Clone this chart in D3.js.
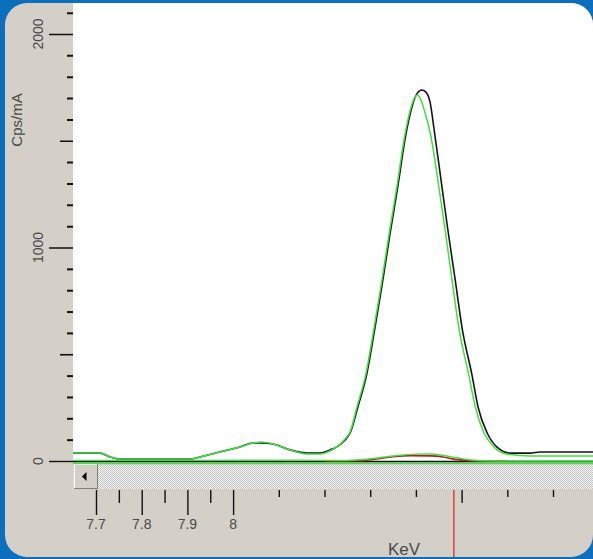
<!DOCTYPE html>
<html>
<head>
<meta charset="utf-8">
<script src="https://cdn.jsdelivr.net/npm/d3@7"></script>
<style>
    body { margin: 0; background: #0b6fbd; }
    .canvas { width: 593px; height: 559px; }
    text { font-family: "Liberation Sans", Arial, sans-serif; fill: #4a4a4a; }
</style>
</head>
<body>
<div class="canvas"></div>

<script>

    // measured spectrum (black)
    const measuredKeV = [7.650, 7.709, 7.731, 7.753, 7.906, 7.928, 7.971, 8.015, 8.044, 8.063, 8.087, 8.125, 8.162, 8.190,
        8.212, 8.227, 8.245, 8.256, 8.273, 8.293, 8.306, 8.326, 8.343, 8.361, 8.376, 8.387, 8.396, 8.405, 8.413, 8.422,
        8.431, 8.440, 8.455, 8.470, 8.486, 8.501, 8.523, 8.536, 8.556, 8.577, 8.606, 8.650, 8.672, 8.788];
    const measuredCps = [37, 37, 19, 9, 9, 19, 42, 66, 84, 84, 80, 52, 37, 37,
        52, 66, 98, 131, 253, 412, 567, 824, 1059, 1293, 1504, 1621, 1691, 1728, 1738, 1728,
        1681, 1550, 1316, 1082, 848, 624, 400, 253, 131, 66, 37, 37, 42, 42];

    // fitted spectrum (green)
    const fitKeV = [7.650, 7.709, 7.731, 7.753, 7.906, 7.928, 7.971, 8.015, 8.044, 8.063, 8.087, 8.125, 8.162, 8.190,
        8.212, 8.227, 8.245, 8.256, 8.271, 8.291, 8.304, 8.324, 8.341, 8.359, 8.374, 8.385, 8.394, 8.403, 8.411, 8.420,
        8.431, 8.448, 8.464, 8.479, 8.494, 8.516, 8.530, 8.549, 8.571, 8.597, 8.650, 8.788];
    const fitCps = [37, 37, 19, 9, 9, 19, 42, 66, 84, 89, 80, 52, 33, 33,
        47, 66, 103, 136, 253, 412, 567, 824, 1059, 1293, 1504, 1621, 1686, 1714, 1691, 1630,
        1541, 1316, 1082, 848, 624, 400, 253, 131, 66, 33, 23, 23];

    // small overlapping line (green) and its companion (red)
    const lineKeV = [7.650, 7.900, 8.150, 8.245, 8.280, 8.320, 8.360, 8.400, 8.430, 8.460, 8.490, 8.520, 8.550, 8.600, 8.788];
    const lineCps = [3, 3, 4, 2, 6, 15, 26, 32, 33, 26, 15, 5, 1, 0, 0];
    const redKeV = [8.200, 8.270, 8.310, 8.350, 8.390, 8.430, 8.460, 8.480, 8.510, 8.540, 8.600];
    const redCps = [0, 1, 8, 20, 25, 24, 19, 10, 3, 0, 0];

    // axes
    const yMajor = [0, 1000, 2000];
    const yMid = [500, 1500];
    const yMinor = [100, 200, 300, 400, 600, 700, 800, 900, 1100, 1200, 1300, 1400, 1600, 1700, 1800, 1900, 2100];
    const xMajor = [7.7, 7.8, 7.9, 8];
    const xMajorLabels = ["7.7", "7.8", "7.9", "8"];
    const xMid = [7.75, 7.85, 7.95, 8.5];
    const xMinor = [8.1, 8.2, 8.3, 8.4, 8.6, 8.7];
    const MARKER_KEV = 8.483;

    (function () {
        const canvas = d3.select(".canvas");

        const WIDTH = 593;
        const HEIGHT = 559;
        const PANEL_X = 5;
        const PANEL_Y = 3;
        const PLOT_LEFT = 73;
        const PLOT_BOTTOM = 462;
        const SCROLL_TOP = 463;
        const SCROLL_BOTTOM = 489;
        const TICK_TOP = 490;

        const svg = canvas.append("svg")
            .attr("width", WIDTH)
            .attr("height", HEIGHT);

        const defs = svg.append("defs");
        defs.append("clipPath").attr("id", "panelClip")
            .append("rect")
            .attr("x", PANEL_X).attr("y", PANEL_Y)
            .attr("width", WIDTH - PANEL_X).attr("height", 554)
            .attr("rx", 22);

        const hatch = defs.append("pattern").attr("id", "hatch")
            .attr("width", 2).attr("height", 2)
            .attr("patternUnits", "userSpaceOnUse");
        hatch.append("rect").attr("width", 2).attr("height", 2).attr("fill", "#f4f4f4");
        hatch.append("rect").attr("width", 1).attr("height", 1).attr("fill", "#c4c4c4");
        hatch.append("rect").attr("x", 1).attr("y", 1).attr("width", 1).attr("height", 1).attr("fill", "#c4c4c4");

        const xScale = d3.scaleLinear().domain([7.7, 8.7]).range([96, 553]);
        const yScale = d3.scaleLinear().domain([0, 2000]).range([461, 34]);

        const panel = svg.append("g").attr("clip-path", "url(#panelClip)");

        panel.append("rect")
            .attr("x", PANEL_X).attr("y", PANEL_Y)
            .attr("width", WIDTH).attr("height", HEIGHT)
            .attr("fill", "#d4d0c8");

        // white plot area
        panel.append("rect")
            .attr("x", PLOT_LEFT).attr("y", PANEL_Y)
            .attr("width", WIDTH - PLOT_LEFT).attr("height", PLOT_BOTTOM - PANEL_Y)
            .attr("fill", "#ffffff");

        // scroll bar
        panel.append("rect")
            .attr("x", PLOT_LEFT).attr("y", SCROLL_TOP)
            .attr("width", WIDTH - PLOT_LEFT).attr("height", SCROLL_BOTTOM - SCROLL_TOP)
            .attr("fill", "url(#hatch)");

        const btn = panel.append("g");
        btn.append("rect")
            .attr("x", 74).attr("y", 464).attr("width", 24).attr("height", 25)
            .attr("fill", "#808080");
        btn.append("rect")
            .attr("x", 74).attr("y", 464).attr("width", 23).attr("height", 24)
            .attr("fill", "#ffffff");
        btn.append("rect")
            .attr("x", 75).attr("y", 465).attr("width", 22).attr("height", 23)
            .attr("fill", "#d4d0c8");
        btn.append("path")
            .attr("d", "M82,476.5 L86.5,472 L86.5,481 Z")
            .attr("fill", "#000");

        // y axis ticks
        function yTicks(values, size, width) {
            panel.append("g")
                .attr("transform", "translate(" + PLOT_LEFT + ",0)")
                .call(d3.axisLeft(yScale).tickValues(values).tickSize(size).tickFormat(""))
                .call(g => g.select(".domain").remove())
                .call(g => g.selectAll("line").attr("stroke", "#111").attr("stroke-width", width));
        }
        yTicks(yMinor, 6, 2);
        yTicks(yMid, 13, 1.6);
        yTicks(yMajor, 24, 1.4);

        panel.selectAll("text.ylab")
            .data(yMajor)
            .enter()
            .append("text")
            .attr("class", "ylab")
            .attr("transform", d => "translate(43," + yScale(d) + ") rotate(-90)")
            .attr("text-anchor", "middle")
            .style("font-size", "14px")
            .text(d => d);

        panel.append("text")
            .attr("transform", "translate(22,120) rotate(-90)")
            .attr("text-anchor", "middle")
            .style("font-size", "15px")
            .text("Cps/mA");

        // x axis ticks below the scroll bar
        function xTicks(values, size, width) {
            panel.append("g")
                .attr("transform", "translate(0," + TICK_TOP + ")")
                .call(d3.axisBottom(xScale).tickValues(values).tickSize(size).tickFormat(""))
                .call(g => g.select(".domain").remove())
                .call(g => g.selectAll("line").attr("stroke", "#111").attr("stroke-width", width));
        }
        xTicks(xMinor, 7, 1.4);
        xTicks(xMid, 13, 1.4);
        xTicks(xMajor, 25, 1.4);

        panel.selectAll("text.xlab")
            .data(xMajor)
            .enter()
            .append("text")
            .attr("class", "xlab")
            .attr("x", d => xScale(d))
            .attr("y", 529)
            .attr("text-anchor", "middle")
            .style("font-size", "14px")
            .text((d, i) => xMajorLabels[i]);

        panel.append("text")
            .attr("x", 404)
            .attr("y", 555)
            .attr("text-anchor", "middle")
            .style("font-size", "17px")
            .text("KeV");

        panel.append("line")
            .attr("x1", xScale(MARKER_KEV)).attr("x2", xScale(MARKER_KEV))
            .attr("y1", TICK_TOP).attr("y2", HEIGHT)
            .attr("stroke", "#e2454a")
            .attr("stroke-width", 1.6);

        // series
        const plot = panel.append("g");
        plot.append("clipPath").attr("id", "plotClip")
            .append("rect")
            .attr("x", PLOT_LEFT).attr("y", PANEL_Y)
            .attr("width", WIDTH - PLOT_LEFT).attr("height", SCROLL_TOP + 2 - PANEL_Y);
        plot.attr("clip-path", "url(#plotClip)");

        const line = d3.line()
            .x(d => xScale(d[0]))
            .y(d => yScale(d[1]))
            .curve(d3.curveMonotoneX);

        function drawSeries(xs, ys, color, width) {
            plot.append("path")
                .datum(xs.map((x, i) => [x, ys[i]]))
                .attr("d", line)
                .attr("fill", "none")
                .attr("stroke", color)
                .attr("stroke-width", width);
        }

        // zero line (black) with green baseline under it
        const xDomain = [xScale.invert(PLOT_LEFT), xScale.invert(WIDTH)];
        plot.append("line")
            .attr("x1", xScale(xDomain[0])).attr("x2", xScale(xDomain[1]))
            .attr("y1", yScale(0) + 0.5).attr("y2", yScale(0) + 0.5)
            .attr("stroke", "#111").attr("stroke-width", 1.4);
        plot.append("line")
            .attr("x1", xScale(xDomain[0])).attr("x2", xScale(xDomain[1]))
            .attr("y1", yScale(0) + 2.5).attr("y2", yScale(0) + 2.5)
            .attr("stroke", "#3fe03f").attr("stroke-width", 1.4);

        drawSeries(redKeV, redCps, "#b81c1c", 1.6);
        drawSeries(lineKeV, lineCps, "#3fe03f", 1.4);
        drawSeries(measuredKeV, measuredCps, "#151515", 1.6);
        drawSeries(fitKeV, fitCps, "#3fe03f", 1.5);
    })()

</script>
</body>
</html>
